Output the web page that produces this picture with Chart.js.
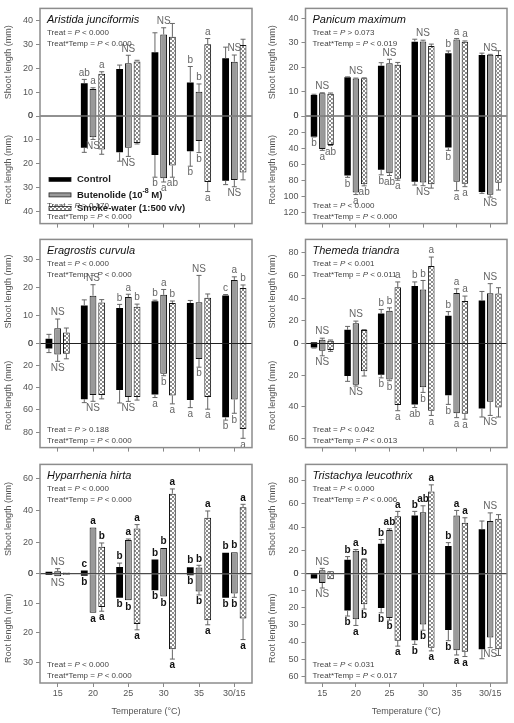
<!DOCTYPE html>
<html>
<head>
<meta charset="utf-8">
<script src="https://cdn.jsdelivr.net/npm/chart.js@4.4.1/dist/chart.umd.min.js"></script>
<style>
  body { margin: 0; background: #fff; }
  #fig { position: relative; width: 514px; height: 723px; overflow: hidden; }
  #fig canvas { position: absolute; }
</style>
</head>
<body>
<div id="fig">
  <canvas id="aj" width="257" height="232" style="left:0;top:0"></canvas>
  <canvas id="pm" width="257" height="232" style="left:257px;top:0"></canvas>
  <canvas id="ec" width="257" height="225" style="left:0;top:231px"></canvas>
  <canvas id="tt" width="257" height="225" style="left:257px;top:231px"></canvas>
  <canvas id="hh" width="257" height="267" style="left:0;top:456px"></canvas>
  <canvas id="tl" width="257" height="267" style="left:257px;top:456px"></canvas>
</div>
<script>
const temps = ['15', '20', '25', '30', '35', '30/15'];
const treatNames = ['Control', 'Butenolide (10', 'Smoke-water (1:500 v/v)'];

// rows: control, butenolide, smoke-water
// Aristida junciformis
const ajShoot = [[null, 13.7, 19.7, 26.7, 14.0, 24.1], [null, 11.3, 22.1, 34.1, 10.1, 22.7], [null, 17.7, 22.8, 33.1, 30.0, 29.7]];
const ajShootErr = [[0, 1.6, 1.6, 8.1, 6.7, 4.7], [0, 0.5, 3.3, 2.8, 3.3, 2.8], [0, 0.8, 0.5, 5.6, 2.4, 2.4]];
const ajRoot = [[null, 13.3, 15.2, 16.3, 14.7, 27.1], [null, 8.9, 13.3, 26.0, 10.5, 26.8], [null, 14.0, 11.3, 20.7, 27.6, 23.6]];
const ajRootErr = [[0, 1.9, 3.7, 9.3, 6.3, 1.6], [0, 0.9, 3.6, 1.6, 4.8, 2.8], [0, 2.0, 0.4, 4.9, 4.0, 3.1]];
const ajShootLet = ['', ['ab', 'a', 'a'], 'NS', 'NS', ['b', 'b', 'a'], 'NS'];
const ajRootLet = ['', 'NS', 'NS', ['b', 'a', 'ab'], ['b', 'b', 'a'], 'NS'];

// Panicum maximum
const pmShoot = [[8.6, 15.8, 20.5, 30.4, 25.7, 24.9], [9.3, 15.3, 21.6, 30.5, 31.3, 25.0], [9.1, 15.4, 21.0, 28.6, 30.4, 24.9]];
const pmShootErr = [[0.3, 0.2, 1.3, 1.0, 0.9, 0.8], [0.2, 0.2, 1.6, 0.5, 0.4, 0.2], [0.3, 0.2, 0.9, 0.8, 0.3, 1.8]];
const pmRoot = [[25.7, 74, 67, 82, 39.2, 94.7], [41.2, 95.4, 71.3, 82.8, 82, 98.2], [36, 85, 78, 85, 84.4, 83.2]];
const pmRootErr = [[0.5, 2.4, 6.3, 4, 3.6, 1.6], [1.6, 2.4, 2.8, 4, 11, 2.8], [0.8, 2, 2, 4.8, 3.6, 9]];
const pmShootLet = ['NS', 'NS', 'NS', 'NS', ['b', 'a', 'a'], 'NS'];
const pmRootLet = [['b', 'a', 'ab'], ['b', 'a', 'ab'], ['b', 'ab', 'a'], 'NS', ['b', 'a', 'a'], 'NS'];

// Eragrostis curvula
const ecShoot = [[1.65, 13.5, 12.6, 15.0, 14.4, 17.1], [5.4, 17.0, 16.5, 17.3, 14.7, 22.6], [3.9, 14.6, 13.1, 14.4, 16.3, 19.7]];
const ecShootErr = [[1.6, 2.0, 1.3, 0.4, 0.9, 0.3], [3.3, 3.9, 1.0, 1.9, 9.5, 1.1], [1.6, 1.0, 0.9, 0.7, 1.3, 1.1]];
const ecRoot = [[4.5, 50.3, 42.1, 46.0, 51.1, 66.7], [9.9, 46.6, 48.3, 27.4, 14.1, 50.6], [9.3, 46.6, 48.3, 46.9, 48.3, 77.1]];
const ecRootErr = [[3.7, 3.1, 11.6, 2.8, 6.8, 2.5], [6.2, 5.6, 4.0, 1.7, 7.3, 12.4], [4.5, 3.4, 2.8, 7.6, 11.0, 8.5]];
const ecShootLet = ['NS', 'NS', ['b', 'a', 'b'], ['b', 'a', 'b'], 'NS', ['c', 'a', 'b']];
const ecRootLet = ['NS', 'NS', 'NS', ['a', 'b', 'a'], ['a', 'b', 'a'], ['b', 'b', 'a']];

// Themeda triandra
const ttShoot = [[1.1, 12.1, 26.5, 50.8, 24.6, 38.0], [3.3, 17.9, 29.0, 47.7, 44.7, 44.4], [2.5, 11.9, 49.7, 68.4, 37.5, 44.1]];
const ttShootErr = [[0, 3.0, 3.6, 3.6, 3.6, 8.0], [1.4, 1.9, 2.5, 8.0, 3.6, 8.5], [0.6, 0.4, 4.7, 8.0, 4.4, 5.2]];
const ttRoot = [[2.6, 20.6, 19.8, 38.6, 32.8, 41.2], [4.6, 26.2, 22.8, 27.8, 44.2, 37.0], [4.2, 17.6, 39.0, 42.6, 44.6, 40.6]];
const ttRootErr = [[0.3, 3.4, 2.0, 2.0, 5.8, 5.4], [3.2, 0.8, 0.8, 3.2, 2.8, 8.6], [0.8, 3.0, 3.6, 3.0, 3.4, 6.0]];
const ttShootLet = ['NS', 'NS', ['b', 'b', 'a'], ['b', 'b', 'a'], ['b', 'a', 'a'], 'NS'];
const ttRootLet = ['NS', 'NS', ['b', 'b', 'a'], ['ab', 'b', 'a'], ['b', 'a', 'a'], 'NS'];

// Hyparrhenia hirta
const hhShoot = [[1.2, 2.0, 4.3, 8.9, 4.1, 13.2], [1.6, 29.2, 21.3, 16.2, 3.9, 13.6], [0.8, 17.0, 28.6, 50.5, 35.3, 42.0]];
const hhShootErr = [[0, 0, 2.4, 0, 0, 0], [1.6, 0, 0.6, 0, 1.4, 0], [0, 2.4, 2.4, 3.0, 4.3, 1.8]];
const hhRoot = [[0.4, 0.7, 8.1, 5.6, 0.5, 8.1], [0.9, 13.2, 9.0, 7.7, 6.0, 6.7], [0.4, 11.3, 17.0, 25.6, 15.8, 15.2]];
const hhRootErr = [[0, 0, 0, 0, 0, 0], [0, 0, 0, 0, 1.2, 1.3], [0, 1.4, 2.0, 3.3, 1.5, 7.1]];
const hhShootLet = ['NS', ['c', 'a', 'b'], ['b', 'a', 'a'], ['b', 'b', 'a'], ['b', 'b', 'a'], ['b', 'b', 'a']];
const hhRootLet = ['NS', ['b', 'a', 'a'], ['b', 'b', 'a'], ['b', 'b', 'a'], ['b', 'b', 'a'], ['b', 'b', 'a']];

// Tristachya leucothrix
const tlShoot = [[0.5, 11.9, 25.8, 50.0, 23.9, 38.3], [3.0, 19.7, 37.5, 52.8, 50.0, 45.3], [2.2, 12.5, 49.4, 70.8, 43.9, 47.2]];
const tlShootErr = [[0, 2.8, 3.6, 3.6, 2.8, 7.0], [1.6, 1.1, 1.1, 5.6, 4.4, 7.0], [0, 0.3, 4.2, 5.6, 4.2, 3.6]];
const tlRoot = [[2.8, 21.6, 20.1, 39.0, 33.0, 44.2], [5.4, 26.6, 25.9, 29.7, 44.8, 37.3], [3.2, 17.9, 39.2, 43.3, 45.7, 44.2]];
const tlRootErr = [[0, 3.2, 2.8, 2.4, 6.2, 5.6], [3.0, 3.7, 1.3, 3.4, 2.8, 6.0], [0, 2.8, 3.2, 1.9, 2.8, 3.7]];
const tlShootLet = ['NS', ['b', 'a', 'b'], ['b', 'ab', 'a'], ['b', 'ab', 'a'], ['b', 'a', 'a'], 'NS'];
const tlRootLet = ['NS', ['b', 'a', 'b'], ['b', 'b', 'a'], ['b', 'b', 'a'], ['b', 'a', 'a'], 'NS'];

const FONT = '"Liberation Sans", Arial, sans-serif';
Chart.defaults.font.family = FONT;

function hatch() {
  const c = document.createElement('canvas');
  c.width = 4; c.height = 4;
  const g = c.getContext('2d');
  g.fillStyle = '#fff'; g.fillRect(0, 0, 4, 4);
  g.fillStyle = '#8a8a8a'; g.fillRect(0, 0, 2, 2); g.fillRect(2, 2, 2, 2);
  return g.createPattern(c, 'repeat');
}
const smokeFill = hatch();
const fills = ['#000', '#9a9a9a', smokeFill];

const panels = [
  { id: 'aj', title: 'Aristida junciformis', shoot: ajShoot, shootErr: ajShootErr, root: ajRoot, rootErr: ajRootErr, sLet: ajShootLet, rLet: ajRootLet,
    sMax: 45, rMax: 45, sStep: 10, rStep: 10, right: false, bottom: false, legend: true,
    top: ['Treat = P < 0.000', 'Treat*Temp = P < 0.000'], bot: ['Treat = P > 0.170', 'Treat*Temp = P < 0.000'] },
  { id: 'pm', title: 'Panicum maximum', shoot: pmShoot, shootErr: pmShootErr, root: pmRoot, rootErr: pmRootErr, sLet: pmShootLet, rLet: pmRootLet,
    sMax: 44, rMax: 134, sStep: 10, rStep: 20, right: true, bottom: false,
    top: ['Treat = P > 0.073', 'Treat*Temp = P < 0.019'], bot: ['Treat = P < 0.000', 'Treat*Temp = P < 0.000'] },
  { id: 'ec', title: 'Eragrostis curvula', shoot: ecShoot, shootErr: ecShootErr, root: ecRoot, rootErr: ecRootErr, sLet: ecShootLet, rLet: ecRootLet,
    sMax: 37, rMax: 94, sStep: 10, rStep: 20, right: false, bottom: false,
    top: ['Treat = P < 0.000', 'Treat*Temp = P < 0.000'], bot: ['Treat = P > 0.188', 'Treat*Temp = P < 0.000'] },
  { id: 'tt', title: 'Themeda triandra', shoot: ttShoot, shootErr: ttShootErr, root: ttRoot, rootErr: ttRootErr, sLet: ttShootLet, rLet: ttRootLet,
    sMax: 92, rMax: 66, sStep: 20, rStep: 20, right: true, bottom: false,
    top: ['Treat = P < 0.001', 'Treat*Temp = P < 0.011'], bot: ['Treat = P < 0.042', 'Treat*Temp = P < 0.013'] },
  { id: 'hh', title: 'Hyparrhenia hirta', shoot: hhShoot, shootErr: hhShootErr, root: hhRoot, rootErr: hhRootErr, sLet: hhShootLet, rLet: hhRootLet,
    sMax: 69, rMax: 37, sStep: 20, rStep: 10, right: false, bottom: true, bold: true,
    top: ['Treat = P < 0.000', 'Treat*Temp = P < 0.000'], bot: ['Treat = P < 0.000', 'Treat*Temp = P < 0.000'] },
  { id: 'tl', title: 'Tristachya leucothrix', shoot: tlShoot, shootErr: tlShootErr, root: tlRoot, rootErr: tlRootErr, sLet: tlShootLet, rLet: tlRootLet,
    sMax: 94, rMax: 64, sStep: 20, rStep: 10, right: true, bottom: true, bold: true,
    top: ['Treat = P < 0.000', 'Treat*Temp = P < 0.006'], bot: ['Treat = P < 0.031', 'Treat*Temp = P < 0.017'] }
];

// text with italic P
function statText(ctx, x, y, str) {
  const parts = str.split('P');
  ctx.font = '8px ' + FONT;
  ctx.fillText(parts[0], x, y);
  x += ctx.measureText(parts[0]).width;
  ctx.font = 'italic 8px ' + FONT;
  ctx.fillText('P', x, y);
  x += ctx.measureText('P').width;
  ctx.font = '8px ' + FONT;
  ctx.fillText(parts[1], x, y);
}

// tick objects 0..max, with label (zero left blank on the root axis)
function tickList(max, step, hideZero) {
  const out = [];
  for (let v = 0; v <= max; v += step) out.push({ value: v, label: hideZero && v === 0 ? '' : String(v) });
  return out;
}

function overlay(p) {
  return {
    id: 'overlay',
    afterDraw(chart) {
      const ctx = chart.ctx, a = chart.chartArea;
      const ys = chart.scales.ys, yr = chart.scales.yr;
      ctx.save();

      // shoot axis labels, placed with the shoot scale
      ctx.fillStyle = '#555'; ctx.font = '9px ' + FONT;
      ctx.textAlign = 'right'; ctx.textBaseline = 'middle';
      ys.ticks.forEach(t => ctx.fillText(t.label, a.left - 7, ys.getPixelForValue(t.value)));

      // zero line
      const z = ys.getPixelForValue(0);
      ctx.strokeStyle = '#222'; ctx.lineWidth = 1;
      ctx.beginPath(); ctx.moveTo(a.left, z); ctx.lineTo(a.right, z); ctx.stroke();

      // error bars + letters
      const parts = [
        { vals: p.shoot, errs: p.shootErr, lets: p.sLet, sc: ys, off: 0, dir: -1 },
        { vals: p.root, errs: p.rootErr, lets: p.rLet, sc: yr, off: 3, dir: 1 }
      ];
      parts.forEach(part => {
        const ends = [[], [], []], xs = [[], [], []];
        for (let t = 0; t < 3; t++) {
          const meta = chart.getDatasetMeta(part.off + t);
          part.vals[t].forEach((v, i) => {
            if (v == null) return;
            const e = part.errs[t][i];
            const bx = meta.data[i].x;
            const y0 = part.sc.getPixelForValue(v), y1 = part.sc.getPixelForValue(v + e);
            xs[t][i] = bx; ends[t][i] = y1;
            if (e > 0) {
              ctx.strokeStyle = '#666'; ctx.lineWidth = 1;
              ctx.beginPath();
              ctx.moveTo(bx, y0); ctx.lineTo(bx, y1);
              ctx.moveTo(bx - 2.5, y1); ctx.lineTo(bx + 2.5, y1);
              ctx.stroke();
            }
          });
        }
        ctx.textAlign = 'center';
        ctx.textBaseline = part.dir < 0 ? 'bottom' : 'top';
        part.lets.forEach((g, i) => {
          if (!g) return;
          if (g === 'NS') {
            ctx.font = '10px ' + FONT; ctx.fillStyle = '#666';
            ctx.fillText('NS', xs[1][i], ends[1][i] + part.dir * 1.5);
          } else {
            ctx.font = p.bold ? 'bold 10px ' + FONT : '10px ' + FONT;
            ctx.fillStyle = p.bold ? '#111' : '#666';
            for (let t = 0; t < 3; t++) ctx.fillText(g[t], xs[t][i], ends[t][i] + part.dir * 1.5);
          }
        });
      });

      // frame
      ctx.strokeStyle = '#8c8c8c'; ctx.lineWidth = 1.5;
      ctx.strokeRect(a.left, a.top, a.right - a.left, a.bottom - a.top);

      // title and statistics
      ctx.textAlign = 'left'; ctx.textBaseline = 'middle';
      ctx.fillStyle = '#111';
      ctx.font = 'italic 11px ' + FONT;
      ctx.fillText(p.title, a.left + 7, a.top + 12);
      ctx.fillStyle = '#444';
      statText(ctx, a.left + 7, a.top + 24, p.top[0]);
      statText(ctx, a.left + 7, a.top + 35, p.top[1]);
      statText(ctx, a.left + 7, a.bottom - 18, p.bot[0]);
      statText(ctx, a.left + 7, a.bottom - 7, p.bot[1]);

      // legend
      if (p.legend) {
        const rows = [a.top + 171, a.top + 186.5, a.top + 200];
        for (let t = 0; t < 3; t++) {
          ctx.fillStyle = fills[t];
          ctx.fillRect(a.left + 9, rows[t] - 2, 22, 4);
          ctx.strokeStyle = '#222'; ctx.lineWidth = 0.8;
          ctx.strokeRect(a.left + 9, rows[t] - 2, 22, 4);
          ctx.fillStyle = '#1a1a1a';
          ctx.font = 'bold 9.5px ' + FONT;
          ctx.fillText(treatNames[t], a.left + 37, rows[t]);
          if (t === 1) {
            let x = a.left + 37 + ctx.measureText(treatNames[t]).width;
            ctx.font = 'bold 7px ' + FONT;
            ctx.fillText('-8', x, rows[t] - 4);
            x += ctx.measureText('-8').width;
            ctx.font = 'bold 9.5px ' + FONT;
            ctx.fillText(' M)', x, rows[t]);
          }
        }
      }
      ctx.restore();
    }
  };
}

panels.forEach(p => {
  const yW = p.right ? 41.5 : 40;
  const xH = p.bottom ? 40 : (p.id === 'aj' || p.id === 'pm' ? 2 : 1);
  const datasets = [];
  ['shoot', 'root'].forEach(part => {
    for (let t = 0; t < 3; t++) {
      datasets.push({
        label: part + ' ' + treatNames[t],
        data: p[part][t],
        yAxisID: part === 'shoot' ? 'ys' : 'yr',
        stack: 'T' + t,
        backgroundColor: fills[t],
        borderColor: '#111',
        borderWidth: t === 0 ? 0 : 1,
        categoryPercentage: 0.74,
        barPercentage: 0.78
      });
    }
  });
  new Chart(document.getElementById(p.id), {
    type: 'bar',
    data: { labels: temps, datasets: datasets },
    options: {
      responsive: false,
      animation: false,
      devicePixelRatio: 1,
      layout: { padding: { top: p.id === 'aj' || p.id === 'pm' ? 5 : 1, left: p.right ? 7 : 0, right: p.right ? 7 : 5, bottom: 0 } },
      plugins: { legend: { display: false }, tooltip: { enabled: false } },
      scales: {
        x: {
          type: 'category',
          offset: true,
          grid: { drawOnChartArea: false, offset: false, tickLength: 4, color: '#888' },
          border: { display: false },
          ticks: { display: p.bottom, color: '#555', font: { size: 9 }, padding: 1, autoSkip: false, maxRotation: 0 },
          title: { display: p.bottom, text: 'Temperature (°C)', color: '#555', font: { size: 9 }, padding: { top: 0, bottom: 6 } },
          afterFit: s => { s.height = xH; }
        },
        yr: {
          type: 'linear', position: 'left', stack: 'split',
          reverse: true, min: 0, max: p.rMax,
          grid: { drawOnChartArea: false, tickLength: 4, color: '#888' },
          border: { display: false },
          ticks: { color: '#555', font: { size: 9 }, padding: 3, autoSkip: false },
          afterBuildTicks: s => { s.ticks = tickList(p.rMax, p.rStep, true); },
          title: { display: true, text: 'Root length (mm)', color: '#555', font: { size: 9 }, padding: { top: 3, bottom: 0 } },
          afterFit: s => { s.width = yW; }
        },
        ys: {
          type: 'linear', position: 'left', stack: 'split',
          min: 0, max: p.sMax,
          grid: { drawOnChartArea: false, tickLength: 4, color: '#888' },
          border: { display: false },
          ticks: { display: false, autoSkip: false },
          afterBuildTicks: s => { s.ticks = tickList(p.sMax, p.sStep, false); },
          title: { display: true, text: 'Shoot length (mm)', color: '#555', font: { size: 9 }, padding: { top: 3, bottom: 0 } },
          afterFit: s => { s.width = yW; }
        }
      }
    },
    plugins: [overlay(p)]
  });
});
</script>
</body>
</html>
